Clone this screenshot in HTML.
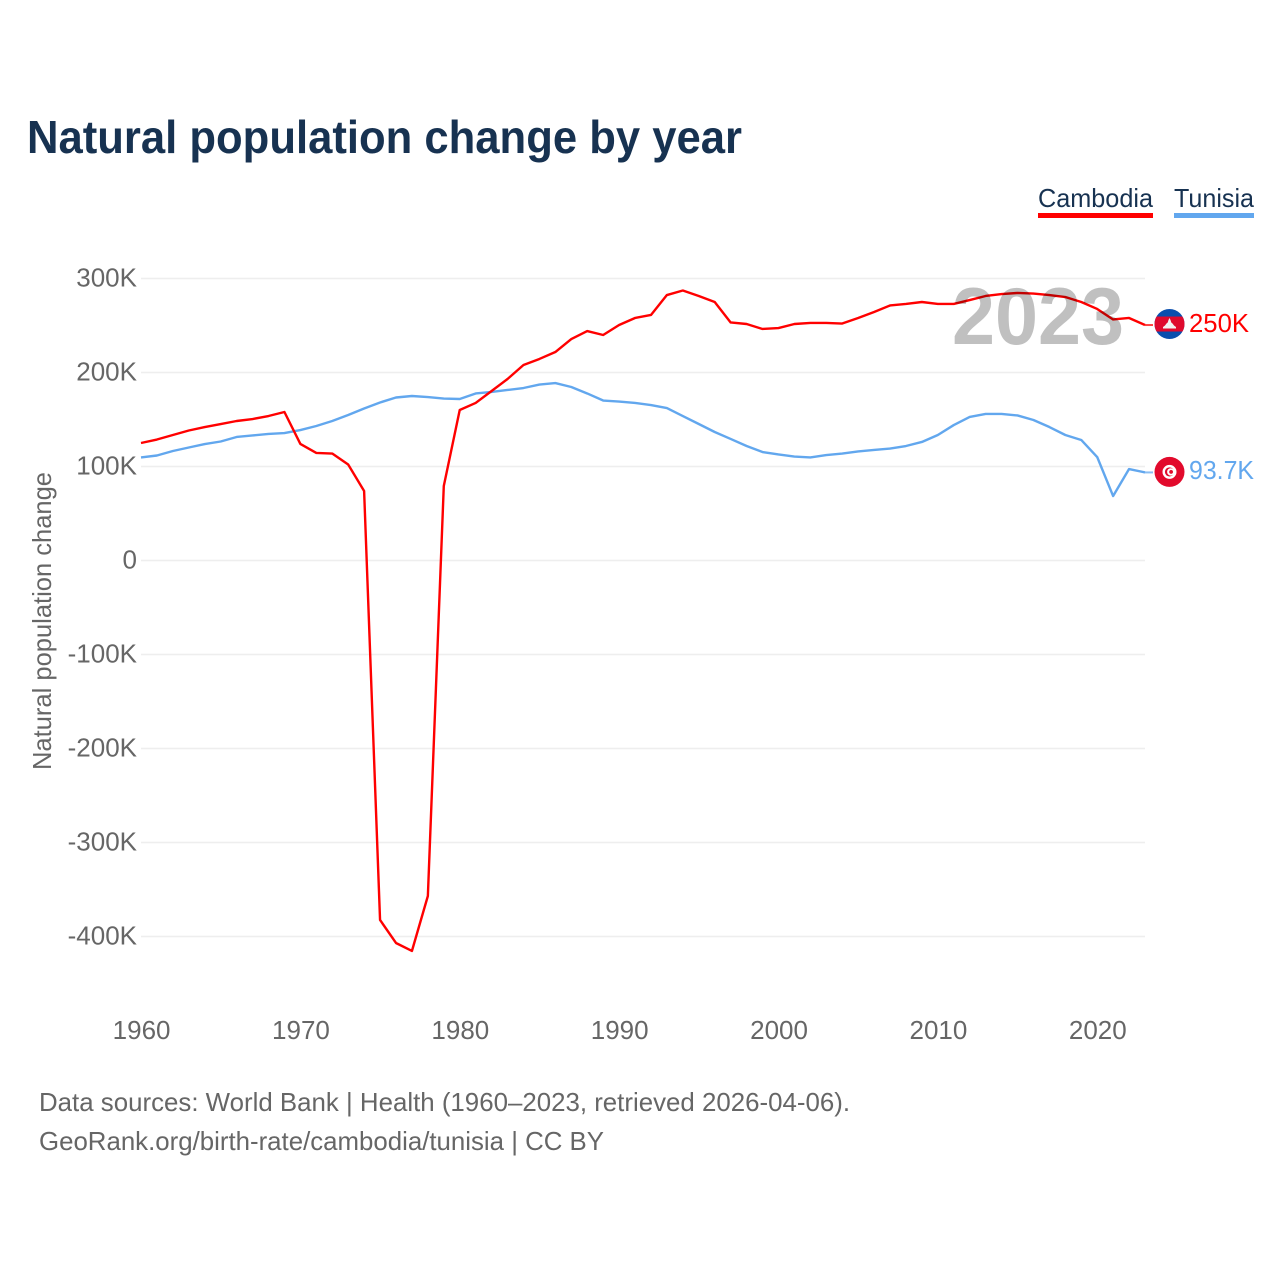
<!DOCTYPE html>
<html lang="en">
<head>
<meta charset="utf-8">
<title>Natural population change by year</title>
<style>
html,body{margin:0;padding:0;background:#fff;}
svg{display:block;font-family:"Liberation Sans",sans-serif;}
</style>
</head>
<body>
<svg id="chart" xmlns="http://www.w3.org/2000/svg" width="1280" height="1280" viewBox="0 0 1280 1280">
  <defs>
    <clipPath id="flag-clip"><circle r="15"/></clipPath>
  </defs>
  <rect x="0" y="0" width="1280" height="1280" fill="#ffffff"/>
  <text x="27" y="153" font-size="46" font-weight="700" fill="#173251" textLength="715" lengthAdjust="spacingAndGlyphs">Natural population change by year</text>

  <g>
    <text x="1038" y="207" font-size="26" fill="#173251" textLength="115" lengthAdjust="spacingAndGlyphs">Cambodia</text>
    <rect x="1038" y="213" width="115" height="5" fill="#ff0000"/>
  </g>
  <g>
    <text x="1174" y="207" font-size="26" fill="#173251" textLength="80" lengthAdjust="spacingAndGlyphs">Tunisia</text>
    <rect x="1174" y="213" width="80" height="5" fill="#62a7ee"/>
  </g>

  <g id="grid"></g>
  <g id="yticks"></g>
  <g id="xticks"></g>
  <text transform="translate(51 621) rotate(-90)" text-anchor="middle" font-size="26" fill="#666666" textLength="298" lengthAdjust="spacingAndGlyphs">Natural population change</text>

  <g id="series"></g>

  <text x="952" y="344" font-size="81" font-weight="700" fill="#c0c0c0" textLength="172" lengthAdjust="spacingAndGlyphs" style="mix-blend-mode:multiply">2023</text>

  <g id="end-markers"></g>

  <text x="39" y="1111" font-size="26" fill="#666666" textLength="811" lengthAdjust="spacingAndGlyphs">Data sources: World Bank | Health (1960–2023, retrieved 2026-04-06).</text>
  <text x="39" y="1150" font-size="26" fill="#666666" textLength="565" lengthAdjust="spacingAndGlyphs">GeoRank.org/birth-rate/cambodia/tunisia | CC BY</text>
</svg>
<script>
const years = [1960,1961,1962,1963,1964,1965,1966,1967,1968,1969,1970,1971,1972,1973,1974,1975,1976,1977,1978,1979,1980,1981,1982,1983,1984,1985,1986,1987,1988,1989,1990,1991,1992,1993,1994,1995,1996,1997,1998,1999,2000,2001,2002,2003,2004,2005,2006,2007,2008,2009,2010,2011,2012,2013,2014,2015,2016,2017,2018,2019,2020,2021,2022,2023];
const cambodia = [125,128.7,133.5,138.3,142,145.2,148.4,150.5,153.7,158,124,114.4,113.8,102.1,73.9,-382.4,-406.9,-415.4,-356.9,79.3,160.1,167.6,180.3,193.1,208,214.4,221.8,235.6,244.1,239.9,250.5,258,261.2,282.4,287.2,281.4,275,253.2,251.6,246.3,247.3,251.6,252.7,252.7,252.1,258,264.4,271.3,272.9,275,272.9,272.9,277.1,281.4,283.5,284.6,284,282.4,280.3,275,267.6,256.4,258,250.5];
const tunisia = [109.6,111.7,116.5,120.2,123.9,126.6,131.4,133,134.6,135.6,138.8,143.1,148.4,154.8,161.7,168.1,173.4,175,173.9,172.3,171.8,177.7,179.3,181.4,183.5,187.2,188.8,184.6,177.7,170.2,169.1,167.6,165.4,162.2,153.7,145.2,136.7,129.3,121.8,115.4,112.8,110.6,109.6,112.2,113.8,116,117.6,119.1,121.8,126.1,133.5,144.1,152.7,155.9,155.9,154.3,149.5,142,133.5,128.2,110.1,68.6,97.3,93.7];
const yTickValues = [300,200,100,0,-100,-200,-300,-400];
const yTickLabels = ["300K","200K","100K","0","-100K","-200K","-300K","-400K"];
const xTickValues = [1960,1970,1980,1990,2000,2010,2020];
const endLabels = ["250K","93.7K"];

const NS = "http://www.w3.org/2000/svg";
const xScale = function (year) { return 141 + (year - 1960) * (1145 - 141) / 63; };
const yScale = function (v) { return 560.5 - v * 0.94; };
function make(tag, parent) {
  const el = document.createElementNS(NS, tag);
  parent.appendChild(el);
  return el;
}

const gridG = document.getElementById("grid");
const yG = document.getElementById("yticks");
yTickValues.forEach(function (v, i) {
  const ln = make("line", gridG);
  
  
  ln.setAttribute("x1", 141);
  ln.setAttribute("x2", 1145);
  ln.setAttribute("y1", yScale(v));
  ln.setAttribute("y2", yScale(v));
  ln.setAttribute("stroke", "#eeeeee");
  ln.setAttribute("stroke-width", "1.5");
  const t = make("text", yG);
  
  
  t.setAttribute("x", 137);
  t.setAttribute("y", yScale(v) + 8);
  t.setAttribute("text-anchor", "end");
  t.setAttribute("font-size", "26");
  t.setAttribute("fill", "#666666");
  t.textContent = yTickLabels[i];
});

const xG = document.getElementById("xticks");
xTickValues.forEach(function (year) {
  const t = make("text", xG);
  
  
  t.setAttribute("x", xScale(year) + 0.6);
  t.setAttribute("y", 1039);
  t.setAttribute("text-anchor", "middle");
  t.setAttribute("font-size", "26");
  t.setAttribute("fill", "#666666");
  t.textContent = String(year);
});

function linePoints(values) {
  return values.map(function (v, i) {
    return xScale(years[i]).toFixed(2) + "," + yScale(v).toFixed(2);
  }).join(" ");
}
const seriesG = document.getElementById("series");
const tunisiaLine = make("polyline", seriesG);


tunisiaLine.setAttribute("points", linePoints(tunisia));
tunisiaLine.setAttribute("fill", "none");
tunisiaLine.setAttribute("stroke", "#62a7ee");
tunisiaLine.setAttribute("stroke-width", "2.4");
tunisiaLine.setAttribute("stroke-linejoin", "round");
const cambodiaLine = make("polyline", seriesG);


cambodiaLine.setAttribute("points", linePoints(cambodia));
cambodiaLine.setAttribute("fill", "none");
cambodiaLine.setAttribute("stroke", "#ff0000");
cambodiaLine.setAttribute("stroke-width", "2.4");
cambodiaLine.setAttribute("stroke-linejoin", "round");

/* End markers: connector, flag and value label follow the last data value */
const markersG = document.getElementById("end-markers");
const lastYear = years[years.length - 1];
function addConnector(v, color, name) {
  const c = make("line", markersG);
  
  
  c.setAttribute("x1", xScale(lastYear));
  c.setAttribute("x2", xScale(lastYear) + 8);
  c.setAttribute("y1", yScale(v));
  c.setAttribute("y2", yScale(v));
  c.setAttribute("stroke", color);
  c.setAttribute("stroke-width", "2");
  c.setAttribute("stroke-opacity", "0.75");
}
function addLabel(v, text, color, name, dy, width) {
  const t = make("text", markersG);
  
  
  t.setAttribute("x", 1189);
  t.setAttribute("y", yScale(v) + dy);
  t.setAttribute("font-size", "26");
  t.setAttribute("fill", color);
  t.setAttribute("textLength", width);
  t.setAttribute("lengthAdjust", "spacingAndGlyphs");
  t.textContent = text;
}
const camEnd = cambodia[cambodia.length - 1];
const tunEnd = tunisia[tunisia.length - 1];
addConnector(camEnd, "#ff0000", "connector-cambodia");
addConnector(tunEnd, "#62a7ee", "connector-tunisia");

const camFlag = make("g", markersG);


camFlag.setAttribute("transform", "translate(1169.5 " + (yScale(camEnd) - 1) + ")");
camFlag.innerHTML = '<g clip-path="url(#flag-clip)"><rect x="-15" y="-15" width="30" height="30" fill="#0a4fae"/><rect x="-15" y="-7.500" width="30" height="15" fill="#df0a2e"/></g><path d="M-6.500 4.500V3L-4.500 1.500L-3 -0.500L-1.800 -1.500L-1 -4L0 -6L1 -4L1.800 -1.500L3 -0.500L4.500 1.500L6.500 3V4.500Z" fill="#f2f2f2"/>';

const tunFlag = make("g", markersG);


tunFlag.setAttribute("transform", "translate(1169.5 " + (yScale(tunEnd) - 0.5) + ")");
tunFlag.innerHTML = '<circle r="15" fill="#e20a2c"/><circle r="7" fill="#ffffff"/><circle r="4.6" fill="#e20a2c"/><circle cx="1.3" r="3.7" fill="#ffffff"/><circle cx="1.6" r="1.9" fill="#e20a2c"/>';

addLabel(camEnd, endLabels[0], "#ff0000", "end-label-cambodia", 7, 60);
addLabel(tunEnd, endLabels[1], "#62a7ee", "end-label-tunisia", 6.500, 65);
</script>
</body>
</html>
